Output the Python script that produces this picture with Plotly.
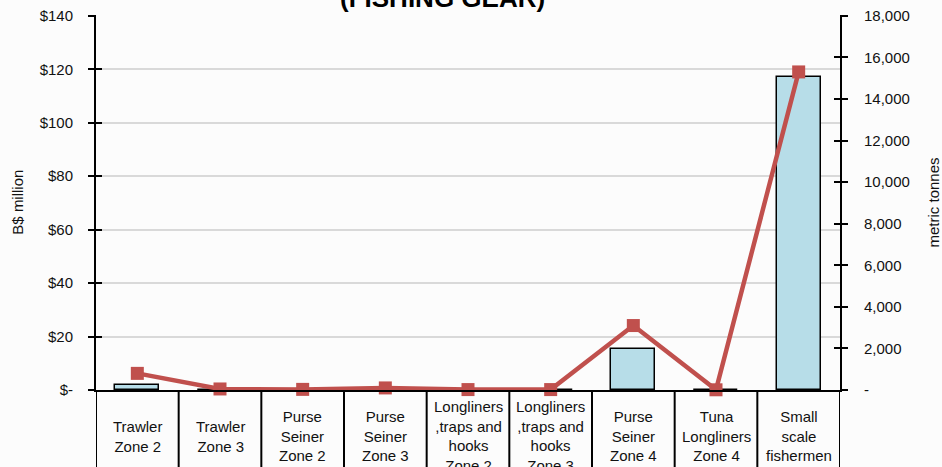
import plotly.graph_objects as go

# ---- data ----
categories = [
    "Trawler<br>Zone 2",
    "Trawler<br>Zone 3",
    "Purse<br>Seiner<br>Zone 2",
    "Purse<br>Seiner<br>Zone 3",
    "Longliners<br>,traps and<br>hooks<br>Zone 2",
    "Longliners<br>,traps and<br>hooks<br>Zone 3",
    "Purse<br>Seiner<br>Zone 4",
    "Tuna<br>Longliners<br>Zone 4",
    "Small<br>scale<br>fishermen",
]
value_musd = [1.8, 0, 0, 0, 0, 0, 15.5, 0, 117]          # bars, left axis
catch_tonnes = [800, 50, 30, 100, 20, 20, 3100, 10, 15300]  # line, right axis

left_ticks = [0, 20, 40, 60, 80, 100, 120, 140]
left_ticktext = ["$-", "$20", "$40", "$60", "$80", "$100", "$120", "$140"]
right_ticks = [0, 2000, 4000, 6000, 8000, 10000, 12000, 14000, 16000, 18000]
right_ticktext = ["-", "2,000", "4,000", "6,000", "8,000", "10,000",
                  "12,000", "14,000", "16,000", "18,000"]

FONT = "Liberation Sans, Arial, sans-serif"
x_idx = list(range(len(categories)))
LEFT_RANGE = [0, 140.3]
RIGHT_RANGE = [0, 18038.6]

fig = go.Figure()

fig.add_trace(go.Bar(
    x=x_idx, y=value_musd,
    width=0.53,
    marker=dict(color="#b7dde8", line=dict(color="black", width=1.5)),
    yaxis="y",
    showlegend=False,
))

fig.add_trace(go.Scatter(
    x=x_idx, y=catch_tonnes,
    mode="lines+markers",
    line=dict(color="#c0504d", width=4.5),
    marker=dict(symbol="square", size=13, color="#c0504d"),
    yaxis="y2",
    showlegend=False,
    cliponaxis=False,
))

# invisible traces so the inner-tick axes get drawn
fig.add_trace(go.Scatter(x=[0], y=[0], yaxis="y3", mode="markers",
                         marker=dict(opacity=0), showlegend=False, hoverinfo="skip"))
fig.add_trace(go.Scatter(x=[0], y=[0], yaxis="y4", mode="markers",
                         marker=dict(opacity=0), showlegend=False, hoverinfo="skip"))

# category labels in boxed cells under the axis
annotations = []
for i, lab in enumerate(categories):
    annotations.append(dict(
        x=i, xref="x", y=-0.123, yref="paper",
        text=lab, showarrow=False, yanchor="middle", xanchor="center",
        font=dict(size=15, color="#111111", family=FONT),
    ))

# title (upper part is cut off in the original)
annotations.append(dict(
    x=0.4656, xref="paper", y=1.0, yref="paper",
    text="<b>(FISHING GEAR)</b>", showarrow=False,
    xanchor="center", yanchor="bottom", yshift=0,
    font=dict(size=26, color="black", family=FONT),
))

# axis titles
annotations.append(dict(
    x=-0.106, xref="paper", y=0.5, yref="paper", text="B$ million",
    showarrow=False, textangle=-90, xanchor="center", yanchor="middle",
    font=dict(size=15, color="#111111", family=FONT),
))
annotations.append(dict(
    x=1.125, xref="paper", y=0.5, yref="paper", text="metric tonnes",
    showarrow=False, textangle=-90, xanchor="center", yanchor="middle",
    font=dict(size=15, color="#111111", family=FONT),
))

shapes = []
for k in range(len(categories) + 1):
    shapes.append(dict(
        type="line", xref="x", yref="paper",
        x0=k - 0.5, x1=k - 0.5, y0=0, y1=-0.3,
        line=dict(color="black", width=2),
    ))

fig.update_layout(
    width=942, height=467,
    margin=dict(l=96, r=102, t=15, b=77),
    paper_bgcolor="#fcfcfc",
    plot_bgcolor="#fcfcfc",
    font=dict(family=FONT, size=15, color="#111111"),
    bargap=0,
    xaxis=dict(
        range=[-0.5, 8.5], showticklabels=False, showgrid=False,
        zeroline=False, showline=True, linecolor="black", linewidth=2,
        ticks="", automargin=False,
    ),
    yaxis=dict(
        range=LEFT_RANGE, tickvals=left_ticks, ticktext=left_ticktext,
        showgrid=True, gridcolor="#d9d9d9", gridwidth=1.5,
        zeroline=False, showline=True, linecolor="black", linewidth=2,
        ticks="outside", ticklen=6, tickwidth=2, tickcolor="black",
        ticklabelstandoff=12, automargin=False, ticklabeloverflow="allow",
    ),
    yaxis2=dict(
        range=RIGHT_RANGE, tickvals=right_ticks, ticktext=right_ticktext,
        overlaying="y", side="right", showgrid=False, zeroline=False,
        showline=True, linecolor="black", linewidth=2,
        ticks="outside", ticklen=6, tickwidth=2, tickcolor="black",
        ticklabelstandoff=13, automargin=False, ticklabeloverflow="allow",
    ),
    yaxis3=dict(
        range=LEFT_RANGE, tickvals=left_ticks, overlaying="y", side="left",
        showticklabels=False, showgrid=False, zeroline=False,
        ticks="inside", ticklen=6, tickwidth=2, tickcolor="black",
        automargin=False,
    ),
    yaxis4=dict(
        range=RIGHT_RANGE, tickvals=right_ticks, overlaying="y", side="right",
        showticklabels=False, showgrid=False, zeroline=False,
        ticks="inside", ticklen=6, tickwidth=2, tickcolor="black",
        automargin=False,
    ),
    annotations=annotations,
    shapes=shapes,
)

# drop the default 8px body margin so the figure fills the window exactly
fig.write_html(
    "out.html",
    config={"displayModeBar": False},
    post_script="document.body.style.margin='0';document.body.style.overflow='hidden';",
)
